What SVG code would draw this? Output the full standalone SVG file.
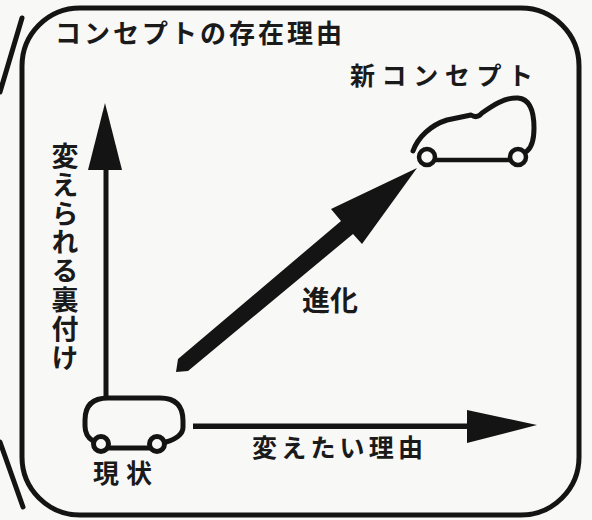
<svg xmlns="http://www.w3.org/2000/svg" width="592" height="520" viewBox="0 0 592 520">
  <style>
    .ink { fill: none; stroke: #141414; stroke-linecap: round; stroke-linejoin: round; }
    .solid { fill: #141414; stroke: none; }
    .lbl { font-family: "Noto Sans CJK JP", "Noto Sans CJK SC", sans-serif; font-weight: 700; fill: #1a1a1a; }
  </style>
  <rect width="592" height="520" fill="#f8f8f6"/>

  <!-- frame with its break marks on the left -->
  <g id="frame">
    <rect class="ink" x="22" y="8" width="557" height="507" rx="58" ry="58" stroke-width="5"/>
    <line class="ink" x1="22" y1="18" x2="0" y2="92" stroke-width="5"/>
    <line class="ink" x1="0" y1="442" x2="23" y2="507" stroke-width="5"/>
    <text class="lbl" x="55" y="43" font-size="26" textLength="287" lengthAdjust="spacing">コンセプトの存在理由</text>
  </g>

  <!-- axes and the evolution arrow -->
  <g id="connectors">
    <!-- vertical axis -->
    <rect class="solid" x="103.5" y="165" width="5" height="233"/>
    <polygon class="solid" points="105,103 122,170 88,170"/>
    <!-- horizontal axis -->
    <rect class="solid" x="193" y="423.5" width="278" height="5.5"/>
    <polygon class="solid" points="537,425 467,410 467,443"/>
    <!-- evolution arrow -->
    <polygon class="solid" points="417,168 362,244 353,234 188,371 176,372 178,359 341,221 331,209"/>
  </g>

  <g id="axis-y-label">
    <text class="lbl" x="65" y="142" font-size="27" writing-mode="vertical-rl" letter-spacing="1.9">変えられる裏付け</text>
  </g>

  <g id="axis-x-label">
    <text class="lbl" x="252" y="456.5" font-size="25" textLength="171" lengthAdjust="spacing">変えたい理由</text>
  </g>

  <g id="evolution-label">
    <text class="lbl" x="302" y="310.5" font-size="28" textLength="56" lengthAdjust="spacing">進化</text>
  </g>

  <!-- current state: boxy car -->
  <g id="current">
    <path class="ink" stroke-width="5" d="M 93,441 Q 85,436 85,426 L 85,420 Q 85,398 108,398 L 160,398 Q 183,398 183,421 L 183,427 Q 183,437 166,442"/>
    <circle class="ink" cx="101" cy="444" r="7.5" stroke-width="5"/>
    <circle class="ink" cx="157" cy="444" r="7.5" stroke-width="5"/>
    <line class="ink" x1="109" y1="448" x2="149" y2="448" stroke-width="5"/>
    <text class="lbl" x="93" y="483" font-size="26" textLength="59" lengthAdjust="spacing">現状</text>
  </g>

  <!-- new concept: sleek car -->
  <g id="new-concept">
    <path class="ink" stroke-width="5" d="M 413,151 C 418,137 431,125 447,120 L 471,115 Q 477,119 482,113 C 492,106 505,97 518,98 C 530,99 534,112 534,128 C 534,140 532,147 527,151"/>
    <circle class="ink" cx="427" cy="157" r="8" stroke-width="4.5"/>
    <circle class="ink" cx="518" cy="157" r="8" stroke-width="4.5"/>
    <line class="ink" x1="435" y1="160" x2="510" y2="160" stroke-width="4.5"/>
    <text class="lbl" x="350" y="84.5" font-size="25" textLength="183" lengthAdjust="spacing">新コンセプト</text>
  </g>
</svg>
